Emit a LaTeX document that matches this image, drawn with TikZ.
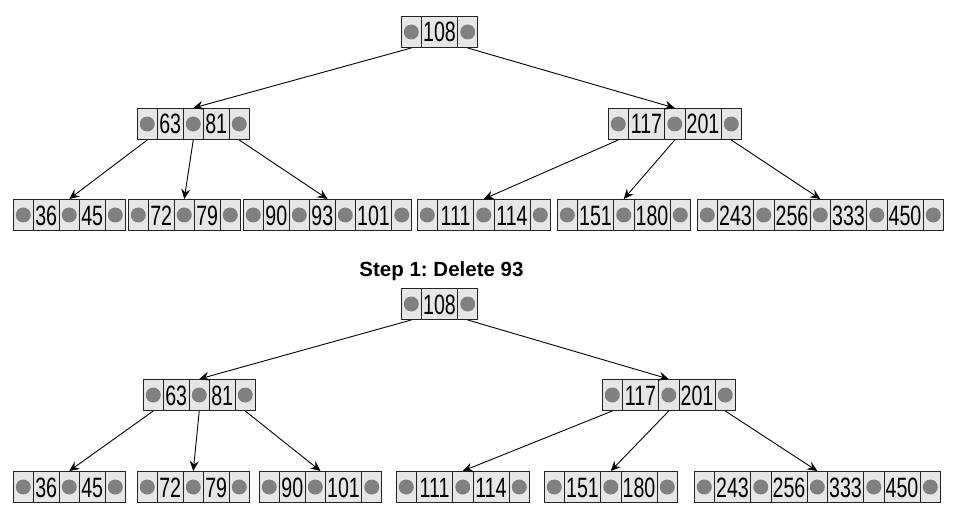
\documentclass[tikz,border=0pt]{standalone}
\usepackage{fontspec}
\setmainfont{Liberation Sans}
\newfontfamily\keyfont[FakeStretch=0.70]{Liberation Sans}
\usetikzlibrary{shapes.multipart,arrows.meta}
\definecolor{cellfill}{RGB}{230,230,230}
\definecolor{dotgray}{RGB}{128,128,128}
\definecolor{cellline}{RGB}{35,35,35}
\frenchspacing
\newcommand\cellstrut{\rule[-5.5pt]{0pt}{31pt}}
\newcommand\pc{\makebox[19.5pt]{\cellstrut\raisebox{2.5pt}{\tikz\fill[dotgray](0pt,0pt)circle[radius=7.5pt];}}}
\newcommand\kt[1]{\makebox[24.5pt]{\cellstrut#1}}
\newcommand\kh[1]{\makebox[35pt]{\cellstrut#1}}
\tikzset{
  bnode/.style={rectangle split, rectangle split horizontal, draw=cellline,
    line width=1pt, inner sep=0pt, rectangle split part fill={cellfill},
    anchor=north west, font=\keyfont\fontsize{28pt}{28pt}\selectfont},
  arr/.style={-{Stealth[length=10pt,width=9pt,inset=3.5pt]}, line width=0.9pt, black},
  titletext/.style={font=\bfseries\fontsize{20.5pt}{20.5pt}\selectfont, anchor=base}
}
\begin{document}
\begin{tikzpicture}[x=1pt,y=-1pt]
\useasboundingbox (0,0) rectangle (955,513);
% ---------- top tree ----------
\node[bnode, rectangle split parts=3] (troot) at (401,16) {\pc\nodepart{two}\kh{108}\nodepart{three}\pc};
\node[bnode, rectangle split parts=5] (ta) at (137,108) {\pc\nodepart{two}\kt{63}\nodepart{three}\pc\nodepart{four}\kt{81}\nodepart{five}\pc};
\node[bnode, rectangle split parts=5] (tb) at (608,108) {\pc\nodepart{two}\kh{117}\nodepart{three}\pc\nodepart{four}\kh{201}\nodepart{five}\pc};
\node[bnode, rectangle split parts=5] (tl1) at (13,199) {\pc\nodepart{two}\kt{36}\nodepart{three}\pc\nodepart{four}\kt{45}\nodepart{five}\pc};
\node[bnode, rectangle split parts=5] (tl2) at (128,199) {\pc\nodepart{two}\kt{72}\nodepart{three}\pc\nodepart{four}\kt{79}\nodepart{five}\pc};
\node[bnode, rectangle split parts=7] (tl3) at (243,199) {\pc\nodepart{two}\kt{90}\nodepart{three}\pc\nodepart{four}\kt{93}\nodepart{five}\pc\nodepart{six}\kh{101}\nodepart{seven}\pc};
\node[bnode, rectangle split parts=5] (tl4) at (417,199) {\pc\nodepart{two}\kh{111}\nodepart{three}\pc\nodepart{four}\kh{114}\nodepart{five}\pc};
\node[bnode, rectangle split parts=5] (tl5) at (557,199) {\pc\nodepart{two}\kh{151}\nodepart{three}\pc\nodepart{four}\kh{180}\nodepart{five}\pc};
\node[bnode, rectangle split parts=9] (tl6) at (697,199) {\pc\nodepart{two}\kh{243}\nodepart{three}\pc\nodepart{four}\kh{256}\nodepart{five}\pc\nodepart{six}\kh{333}\nodepart{seven}\pc\nodepart{eight}\kh{450}\nodepart{nine}\pc};
\draw[arr] (troot.one south) -- (ta.north);
\draw[arr] (troot.three south) -- (tb.north);
\draw[arr] (ta.one south) -- (tl1.north);
\draw[arr] (ta.three south) -- (tl2.north);
\draw[arr] (ta.five south) -- (tl3.north);
\draw[arr] (tb.one south) -- (tl4.north);
\draw[arr] (tb.three south) -- (tl5.north);
\draw[arr] (tb.five south) -- (tl6.north);
% ---------- title ----------
\node[titletext] (title) at (441.5,276) {Step 1: Delete 93};
% ---------- bottom tree ----------
\node[bnode, rectangle split parts=3] (broot) at (401,288) {\pc\nodepart{two}\kh{108}\nodepart{three}\pc};
\node[bnode, rectangle split parts=5] (ba) at (143,379) {\pc\nodepart{two}\kt{63}\nodepart{three}\pc\nodepart{four}\kt{81}\nodepart{five}\pc};
\node[bnode, rectangle split parts=5] (bb) at (602,379) {\pc\nodepart{two}\kh{117}\nodepart{three}\pc\nodepart{four}\kh{201}\nodepart{five}\pc};
\node[bnode, rectangle split parts=5] (bl1) at (13,471) {\pc\nodepart{two}\kt{36}\nodepart{three}\pc\nodepart{four}\kt{45}\nodepart{five}\pc};
\node[bnode, rectangle split parts=5] (bl2) at (137,471) {\pc\nodepart{two}\kt{72}\nodepart{three}\pc\nodepart{four}\kt{79}\nodepart{five}\pc};
\node[bnode, rectangle split parts=5] (bl3) at (259,471) {\pc\nodepart{two}\kt{90}\nodepart{three}\pc\nodepart{four}\kh{101}\nodepart{five}\pc};
\node[bnode, rectangle split parts=5] (bl4) at (396,471) {\pc\nodepart{two}\kh{111}\nodepart{three}\pc\nodepart{four}\kh{114}\nodepart{five}\pc};
\node[bnode, rectangle split parts=5] (bl5) at (544,471) {\pc\nodepart{two}\kh{151}\nodepart{three}\pc\nodepart{four}\kh{180}\nodepart{five}\pc};
\node[bnode, rectangle split parts=9] (bl6) at (694,471) {\pc\nodepart{two}\kh{243}\nodepart{three}\pc\nodepart{four}\kh{256}\nodepart{five}\pc\nodepart{six}\kh{333}\nodepart{seven}\pc\nodepart{eight}\kh{450}\nodepart{nine}\pc};
\draw[arr] (broot.one south) -- (ba.north);
\draw[arr] (broot.three south) -- (bb.north);
\draw[arr] (ba.one south) -- (bl1.north);
\draw[arr] (ba.three south) -- (bl2.north);
\draw[arr] (ba.five south) -- (bl3.north);
\draw[arr] (bb.one south) -- (bl4.north);
\draw[arr] (bb.three south) -- (bl5.north);
\draw[arr] (bb.five south) -- (bl6.north);
\end{tikzpicture}
\end{document}
